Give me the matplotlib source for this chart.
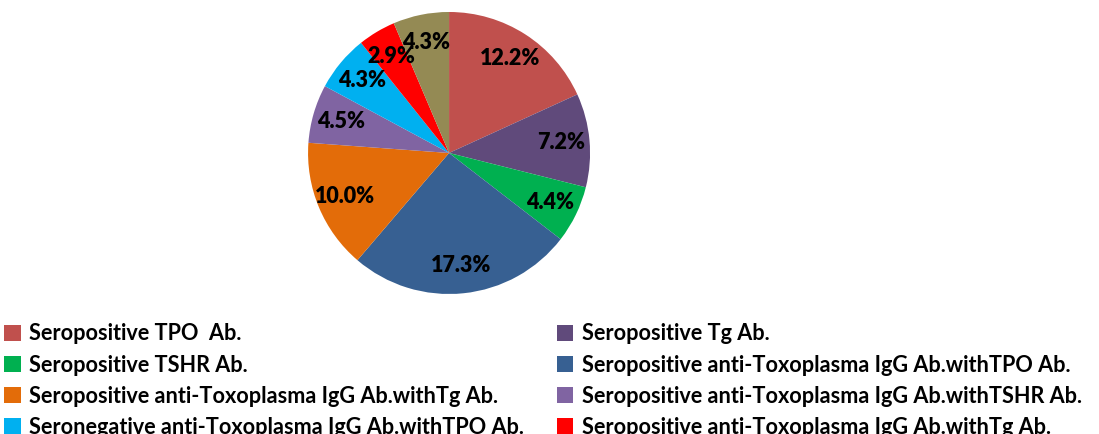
import matplotlib.pyplot as plt
from matplotlib.patches import Patch

# Valores del grafico (porcentajes mostrados en cada sector)
labels = [
    "Seropositive TPO  Ab.",
    "Seropositive Tg Ab.",
    "Seropositive TSHR Ab.",
    "Seropositive anti-Toxoplasma IgG Ab.withTPO Ab.",
    "Seropositive anti-Toxoplasma IgG Ab.withTg Ab.",
    "Seropositive anti-Toxoplasma IgG Ab.withTSHR Ab.",
    "Seronegative anti-Toxoplasma IgG Ab.withTPO Ab.",
    "Seropositive anti-Toxoplasma IgG Ab.withTg Ab.",
    "Seronegative anti-Toxoplasma IgG Ab.withTg Ab.",
]
values = [12.2, 7.2, 4.4, 17.3, 10.0, 4.5, 4.3, 2.9, 4.3]
colors = ["#C0504D", "#604A7B", "#00B050", "#376092", "#E36C09",
          "#8064A2", "#00B0F0", "#FF0000", "#948A54"]

plt.rcParams['font.family'] = ['Lato', 'DejaVu Sans']

fig = plt.figure(figsize=(10.99, 4.34), dpi=100)
ax = fig.add_axes([0.2803, 0.3226, 0.2566, 0.6498])

wedges, texts = ax.pie(values, colors=colors, startangle=90, counterclock=False,
                       labels=[f"{v:.1f}%" for v in values], labeldistance=0.8,
                       textprops=dict(fontsize=15.5, fontweight='heavy', ha='center', va='center'))
ax.set_xlim(-1, 1)
ax.set_ylim(-1, 1)
ax.set_aspect('equal')

# Leyenda en dos columnas (orden por filas)
for col, x0 in [(0, 0.004), (1, 0.507)]:
    idx = [i for i in range(8) if i % 2 == col]
    handles = [Patch(facecolor=colors[i], edgecolor='none') for i in idx]
    fig.legend(handles, [labels[i] for i in idx], loc='upper left',
               bbox_to_anchor=(x0, 0.255), frameon=False,
               prop=dict(size=15.6, weight='bold'), handlelength=0.75, handleheight=0.75,
               handletextpad=0.4, labelspacing=0.47, borderpad=0, borderaxespad=0)

fig.savefig("out.png", dpi=100)
